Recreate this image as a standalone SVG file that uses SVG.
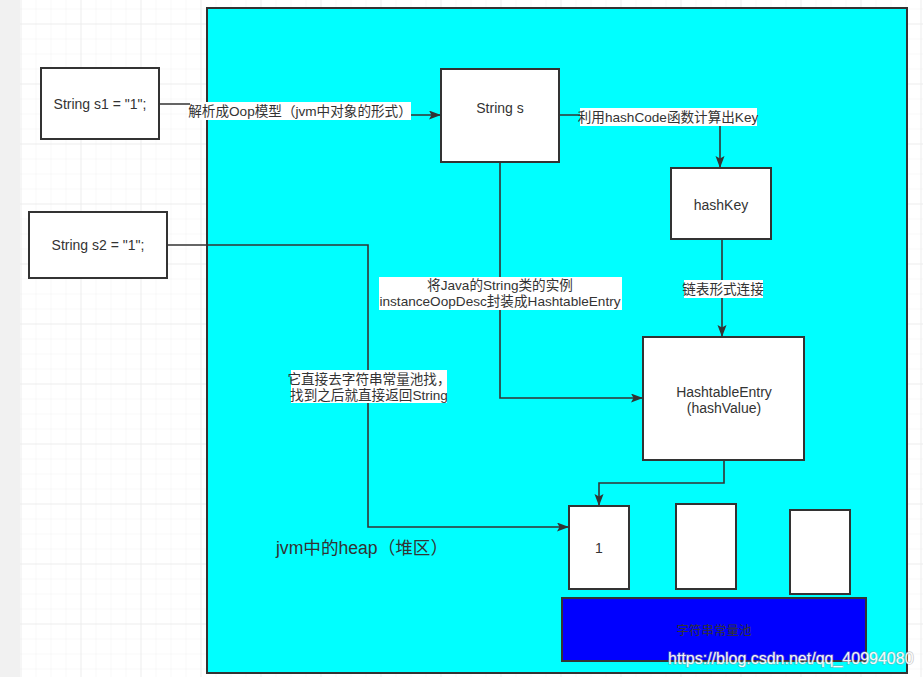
<svg xmlns="http://www.w3.org/2000/svg" width="923" height="677" viewBox="0 0 923 677">
<defs>
<pattern id="minor" x="20.5" y="8.5" width="15" height="15" patternUnits="userSpaceOnUse">
<path d="M0,0 H15 M0,0 V15" fill="none" stroke="#f2f2f2" stroke-width="1"/>
</pattern>
<pattern id="major" x="20.5" y="23.5" width="60" height="60" patternUnits="userSpaceOnUse">
<path d="M0,0 H60 M0,0 V60" fill="none" stroke="#e6e6e6" stroke-width="1"/>
</pattern>
<marker id="arr" markerWidth="12" markerHeight="10" refX="11" refY="4.5" orient="auto" markerUnits="userSpaceOnUse">
<path d="M0,0 L12,4.5 L0,9 L2.5,4.5 Z" fill="#333"/>
</marker>
</defs>
<style>
.box{fill:#fff;stroke:#333;stroke-width:2}
.t{font-family:"Liberation Sans","Noto Sans CJK SC",sans-serif;font-size:13.6px;fill:#333;text-anchor:middle}
.lbl{fill:#fff}
.edge{fill:none;stroke:#333;stroke-width:1.6}
.wm{font-family:"Liberation Sans",sans-serif;font-size:16px}
</style>
<rect x="0" y="0" width="923" height="677" fill="#fff"/>
<rect x="20" y="0" width="903" height="677" fill="url(#minor)"/>
<rect x="20" y="0" width="903" height="677" fill="url(#major)"/>
<rect x="0" y="0" width="20" height="677" fill="#f1f1f1"/>

<g id="heap">
<rect x="207" y="8" width="700" height="665" fill="#00ffff" stroke="#333" stroke-width="2"/>
<text x="362" y="554" class="t" style="font-size:17.6px">jvm中的heap（堆区）</text>
</g>

<g id="s1">
<rect class="box" x="41" y="68" width="118" height="71"/>
<text class="t" x="100" y="109" style="font-size:14px">String s1 = "1";</text>
</g>
<g id="s2">
<rect class="box" x="29" y="212" width="138" height="66"/>
<text class="t" x="98" y="250" style="font-size:14px">String s2 = "1";</text>
</g>
<g id="strings">
<rect class="box" x="441" y="69" width="118" height="93"/>
<text class="t" x="500" y="113" style="font-size:14px">String s</text>
</g>
<g id="hashKey">
<rect class="box" x="671" y="168" width="100" height="71"/>
<text class="t" x="721" y="210" style="font-size:14px">hashKey</text>
</g>
<g id="hashtableEntry">
<rect class="box" x="643" y="337" width="161" height="123"/>
<text class="t" x="724" y="397" style="font-size:14px">HashtableEntry</text>
<text class="t" x="724" y="413" style="font-size:14px">(hashValue)</text>
</g>
<g id="slot1">
<rect class="box" x="569" y="506" width="60" height="83"/>
<text class="t" x="599" y="553" style="font-size:14px">1</text>
</g>
<g id="slot2">
<rect class="box" x="676" y="504" width="60" height="85"/>
</g>
<g id="slot3">
<rect class="box" x="790" y="510" width="60" height="84"/>
</g>
<g id="pool">
<rect x="562" y="598" width="304" height="63" fill="#0000ff" stroke="#333" stroke-width="2"/>
<text class="t" x="714" y="635" style="font-size:12.5px">字符串常量池</text>
</g>

<g id="connectors">
<path class="edge" d="M159,104 H300 V115 H440" marker-end="url(#arr)"/>
<path class="edge" d="M559,115 H720 V167" marker-end="url(#arr)"/>
<path class="edge" d="M500,162 V398 H642" marker-end="url(#arr)"/>
<path class="edge" d="M722,239 V336" marker-end="url(#arr)"/>
<path class="edge" d="M167,245 H368 V527 H568" marker-end="url(#arr)"/>
<path class="edge" d="M724,460 V483 H599 V505" marker-end="url(#arr)"/>

<rect class="lbl" x="190" y="102" width="221" height="18"/>
<text class="t" x="300" y="116">解析成Oop模型（jvm中对象的形式）</text>
<rect class="lbl" x="580" y="108" width="177" height="18"/>
<text class="t" x="668" y="122">利用hashCode函数计算出Key</text>
<rect class="lbl" x="379" y="277" width="243" height="33"/>
<text class="t" x="500" y="290">将Java的String类的实例</text>
<text class="t" x="500" y="306">instanceOopDesc封装成HashtableEntry</text>
<rect class="lbl" x="684" y="280" width="79" height="18"/>
<text class="t" x="723" y="294">链表形式连接</text>
<rect class="lbl" x="291" y="370" width="156" height="33"/>
<text class="t" x="369" y="384">它直接去字符串常量池找，</text>
<text class="t" x="369" y="400">找到之后就直接返回String</text>
</g>

<text class="wm" x="668" y="664" fill="none" stroke="#999" stroke-width="1.5" opacity="0.5">https://blog.csdn.net/qq_40994080</text>
<text class="wm" x="668" y="664" fill="#fff" opacity="0.95">https://blog.csdn.net/qq_40994080</text>
</svg>
